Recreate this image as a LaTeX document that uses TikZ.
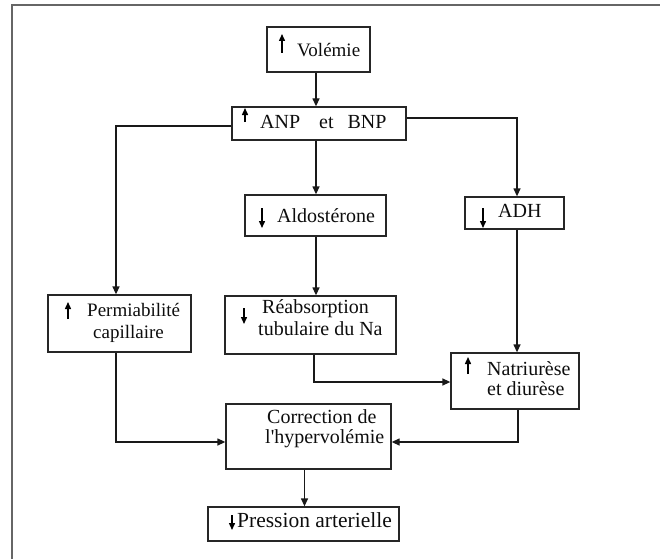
\documentclass[tikz,border=0pt]{standalone}
\usepackage{fontspec}
\newfontfamily\ser{Liberation Serif}
\usetikzlibrary{arrows.meta,fit}
\begin{document}
\begin{tikzpicture}[x=1pt,y=-1pt,
  box/.style={draw=black!85, line width=1.3pt, inner sep=0pt},
  conn/.style={draw=black!90, line width=1.3pt, -{Triangle[length=8pt,width=7pt]}},
  mini/.style={line width=1.4pt, -{Triangle[length=7pt,width=6pt]}},
  txt/.style={anchor=base west, inner sep=0pt, text=black!95, font=\ser\fontsize{20}{24}\selectfont},
  frame/.style={draw=black!60, line width=2pt}]
\useasboundingbox (0,0) rectangle (660,559);
% frame
\draw[frame] (12,559) -- (12,5) -- (660,5);
% boxes
\node[box, fit={(267,27) (370,72)}] (vol) {};
\node[box, fit={(232,107) (406,140)}] (anp) {};
\node[box, fit={(245,195) (386,236)}] (aldo) {};
\node[box, fit={(465,197) (564,229)}] (adh) {};
\node[box, fit={(48,295) (191,352)}] (perm) {};
\node[box, fit={(225,296) (396,354)}] (reab) {};
\node[box, fit={(451,353) (579,409)}] (natri) {};
\node[box, fit={(226,404) (391,469)}] (corr) {};
\node[box, fit={(208,507) (399,541)}] (press) {};
% texts
\node[txt, font=\ser\fontsize{19}{23}\selectfont] (tvol) at (297,57) {Volémie};
\node[txt] (tanp) at (260,128) {ANP\hspace{19pt}et\hspace{14pt}BNP};
\node[txt] (taldo) at (277,222) {Aldostérone};
\node[txt] (tadh) at (498,217) {ADH};
\node[txt, font=\ser\fontsize{19}{23}\selectfont] (tperm1) at (87,316) {Permiabilité};
\node[txt, font=\ser\fontsize{19}{23}\selectfont] (tperm2) at (93,338) {capillaire};
\node[txt] (treab1) at (262,313) {Réabsorption};
\node[txt] (treab2) at (258,335) {tubulaire du Na};
\node[txt] (tnat1) at (487,375) {Natriurèse};
\node[txt] (tnat2) at (487,395) {et diurèse};
\node[txt] (tcor1) at (267,423) {Correction de};
\node[txt] (tcor2) at (265,443) {l'hypervolémie};
\node[txt, font=\ser\fontsize{21.5}{25}\selectfont] (tpress) at (237,527) {Pression arterielle};
% small up/down arrows
\draw[mini] (282,53) -- (282,34);
\draw[mini] (245,122) -- (245,108);
\draw[mini] (262,208) -- (262,228);
\draw[mini] (483,208) -- (483,228);
\draw[mini] (68,319) -- (68,302);
\draw[mini] (244,308) -- (244,324);
\draw[mini] (468,374) -- (468,357);
\draw[mini] (232,515) -- (232,530);
% guide coordinates
\coordinate (cA) at (316,0);
\coordinate (cA2) at (314,0);
\coordinate (cL) at (116,0);
\coordinate (cR) at (517,0);
\coordinate (cR2) at (518,0);
\coordinate (cB) at (304.5,0);
\coordinate (yA) at (0,126);
\coordinate (yB) at (0,118);
\coordinate (yR) at (0,382);
\coordinate (yC) at (0,442);
% connectors
\draw[conn] (vol.south -| cA) -- (anp.north -| cA);
\draw[conn] (anp.west |- yA) -| (perm.north -| cL);
\draw[conn] (anp.south -| cA) -- (aldo.north -| cA);
\draw[conn] (anp.east |- yB) -| (adh.north -| cR);
\draw[conn] (aldo.south -| cA) -- (reab.north -| cA);
\draw[conn] (adh.south -| cR) -- (natri.north -| cR);
\draw[conn] (reab.south -| cA2) |- (natri.west |- yR);
\draw[conn] (perm.south -| cL) |- (corr.west |- yC);
\draw[conn] (natri.south -| cR2) |- (corr.east |- yC);
\draw[conn] (corr.south -| cB) -- (press.north -| cB);
\end{tikzpicture}
\end{document}
